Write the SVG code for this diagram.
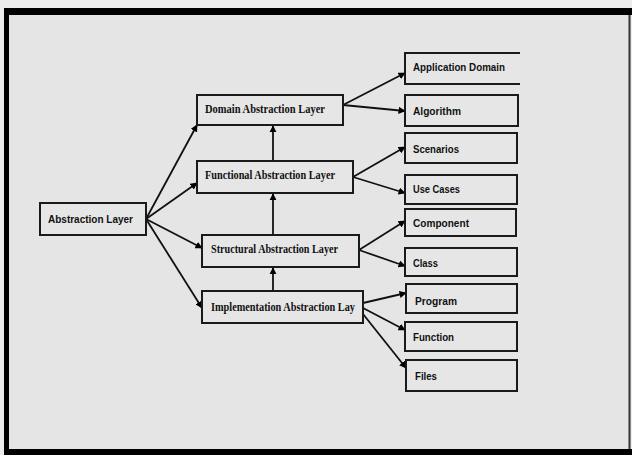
<svg xmlns="http://www.w3.org/2000/svg" width="632" height="455" viewBox="0 0 632 455">
<style>
.box{fill:#e6e6e6;stroke:#1a1a1a;stroke-width:2}
.edge{stroke:#111;stroke-width:1.8;fill:none;marker-end:url(#ah)}
.serif{font-family:"Liberation Serif","DejaVu Serif",serif;font-weight:bold;font-size:12px;fill:#111}
.sans{font-family:"Liberation Sans","DejaVu Sans",sans-serif;font-weight:bold;font-size:11px;fill:#111}
</style>
<defs>
<marker id="ah" viewBox="0 0 10 10" refX="9" refY="5" markerWidth="4" markerHeight="4" orient="auto" markerUnits="strokeWidth">
<path d="M0,0 L10,5 L0,10 z" fill="#000"/>
</marker>
</defs>
<rect x="0" y="0" width="632" height="455" fill="#ececec"/>
<rect x="9" y="15" width="620" height="434" fill="#e5e5e5"/>
<g id="frame" fill="#000">
<rect x="4" y="8" width="628" height="7"/>
<rect x="4" y="8" width="5" height="447"/>
<rect x="4" y="449" width="628" height="6"/>
<rect x="628.5" y="15" width="2" height="434" fill="#333"/>
</g>

<g id="connectors">
<line class="edge" x1="146" y1="219" x2="197" y2="125"/>
<line class="edge" x1="146" y1="219" x2="197" y2="183"/>
<line class="edge" x1="146" y1="219" x2="202" y2="248"/>
<line class="edge" x1="146" y1="219" x2="202" y2="308"/>
<line class="edge" x1="273" y1="161" x2="273" y2="126"/>
<line class="edge" x1="273" y1="235" x2="273" y2="194"/>
<line class="edge" x1="273" y1="291" x2="273" y2="268"/>
<line class="edge" x1="343" y1="105" x2="405" y2="73"/>
<line class="edge" x1="343" y1="105" x2="405" y2="111"/>
<line class="edge" x1="353" y1="177" x2="405" y2="147"/>
<line class="edge" x1="353" y1="177" x2="405" y2="193"/>
<line class="edge" x1="359" y1="250" x2="405" y2="221"/>
<line class="edge" x1="359" y1="250" x2="405" y2="266"/>
<line class="edge" x1="363" y1="303" x2="406" y2="293"/>
<line class="edge" x1="363" y1="308" x2="405" y2="330"/>
<line class="edge" x1="363" y1="314" x2="406" y2="368"/>
</g>

<g id="abstraction-layer"><rect class="box" x="40" y="203" width="106" height="32"/><text class="sans" x="48" y="223" textLength="85" lengthAdjust="spacingAndGlyphs">Abstraction Layer</text></g>
<g id="domain-abstraction-layer"><rect class="box" x="197" y="95" width="146" height="30"/><text class="serif" x="205" y="113" textLength="120" lengthAdjust="spacingAndGlyphs">Domain Abstraction Layer</text></g>
<g id="functional-abstraction-layer"><rect class="box" x="197" y="161" width="156" height="32"/><text class="serif" x="205" y="179" textLength="130" lengthAdjust="spacingAndGlyphs">Functional Abstraction Layer</text></g>
<g id="structural-abstraction-layer"><rect class="box" x="202" y="235" width="157" height="32"/><text class="serif" x="211" y="253" textLength="127" lengthAdjust="spacingAndGlyphs">Structural Abstraction Layer</text></g>
<g id="implementation-abstraction-layer"><rect class="box" x="202" y="291" width="161" height="32"/><text class="serif" x="211" y="311" textLength="144" lengthAdjust="spacingAndGlyphs">Implementation Abstraction Lay</text></g>

<g id="application-domain"><rect x="405" y="53" width="114" height="31" fill="#e6e6e6"/><path d="M520,53 H405 V84 H520" fill="none" stroke="#1a1a1a" stroke-width="2"/><text class="sans" x="413" y="71" textLength="92" lengthAdjust="spacingAndGlyphs">Application Domain</text></g>
<g id="algorithm"><rect class="box" x="405" y="95" width="113" height="31"/><text class="sans" x="413" y="115" textLength="48" lengthAdjust="spacingAndGlyphs">Algorithm</text></g>
<g id="scenarios"><rect class="box" x="405" y="133" width="112" height="30"/><text class="sans" x="413" y="153" textLength="46" lengthAdjust="spacingAndGlyphs">Scenarios</text></g>
<g id="use-cases"><rect class="box" x="405" y="175" width="112" height="29"/><text class="sans" x="413" y="193" textLength="47" lengthAdjust="spacingAndGlyphs">Use Cases</text></g>
<g id="component"><rect class="box" x="405" y="209" width="111" height="27"/><text class="sans" x="413" y="227" textLength="56" lengthAdjust="spacingAndGlyphs">Component</text></g>
<g id="class"><rect class="box" x="405" y="248" width="112" height="28"/><text class="sans" x="413" y="267" textLength="25" lengthAdjust="spacingAndGlyphs">Class</text></g>
<g id="program"><rect class="box" x="406" y="284" width="111" height="29"/><text class="sans" x="415" y="305" textLength="42" lengthAdjust="spacingAndGlyphs">Program</text></g>
<g id="function"><rect class="box" x="405" y="322" width="112" height="29"/><text class="sans" x="413" y="341" textLength="41" lengthAdjust="spacingAndGlyphs">Function</text></g>
<g id="files"><rect class="box" x="406" y="360" width="111" height="31"/><text class="sans" x="415" y="380" textLength="22" lengthAdjust="spacingAndGlyphs">Files</text></g>
</svg>
